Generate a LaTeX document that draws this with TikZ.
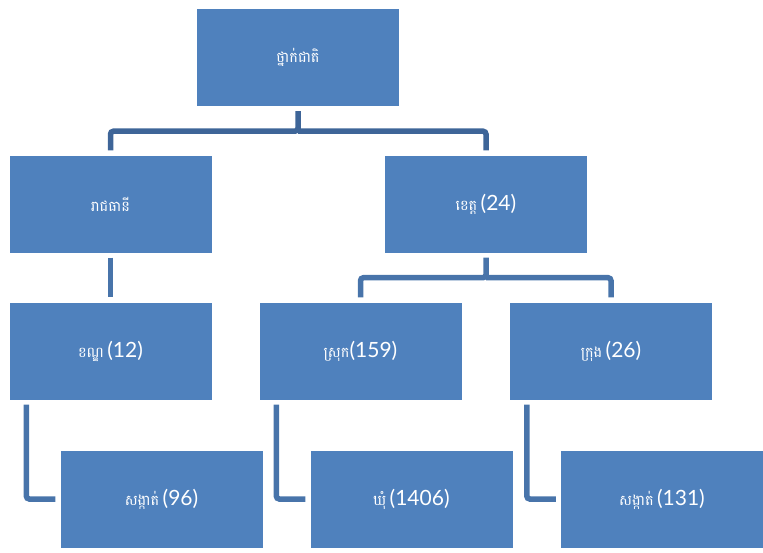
\documentclass[tikz,border=0pt]{standalone}
\usepackage{fontspec}
\usepackage{tikz}
\usetikzlibrary{positioning,calc}
\newfontfamily\khfont[Script=Khmer]{Battambang}
\newfontfamily\numfont{Lato}

\definecolor{boxblue}{HTML}{4F81BD}
\definecolor{linkdark}{HTML}{3E6598}
\definecolor{linklight}{HTML}{4874AA}

\tikzset{
  unitbox/.style={fill=boxblue, text=white, minimum width=202pt, minimum height=97pt, inner sep=0pt},
  linkA/.style={draw=linkdark, line width=5.5pt, rounded corners=3pt},
  linkB/.style={draw=linklight, line width=5.5pt, rounded corners=3pt}
}
\newcommand{\kh}[1]{{\khfont\fontsize{14.5}{16}\selectfont #1}}
\newcommand{\nm}[1]{{\numfont\fontsize{21}{24}\selectfont #1}}

\begin{document}
\begin{tikzpicture}[x=1pt, y=-1pt]
				\useasboundingbox (0,0) rectangle (763,552);

				% Top level
				\node[unitbox] (nat) at (298, 57.5) {\kh{ថ្នាក់ជាតិ}};

				% Second level
				\node[unitbox] (cap) at (110.5, 204) {\kh{រាជធានី}};
				\node[unitbox] (prov) at (486, 204) {\kh{ខេត្ត}\ \nm{(24)}};

				% Third level
				\node[unitbox] (khan) at (110.5, 351) {\kh{ខណ្ឌ}\ \nm{(12)}};
				\node[unitbox] (srok) at (360.5, 351) {\kh{ស្រុក}\nm{(159)}};
				\node[unitbox] (krong) at (611, 351) {\kh{ក្រុង}\ \nm{(26)}};

				% Fourth level
				\node[unitbox] (sk1) at (161.5, 499) {\kh{សង្កាត់}\ \nm{(96)}};
				\node[unitbox] (khum) at (411.5, 499) {\kh{ឃុំ}\ \nm{(1406)}};
				\node[unitbox] (sk2) at (662, 499) {\kh{សង្កាត់}\ \nm{(131)}};

				% Junctions of the branching links
				\coordinate (j1) at ($(nat.south)+(0,25)$);
				\coordinate (j2) at ($(prov.south)+(0,25)$);

				% Top level to second level
				\draw[linkA] ([yshift=-5pt]nat.south) -- (j1) -| ([yshift=5pt]cap.north);
				\draw[linkA] (j1) -| ([yshift=5pt]prov.north);

				% Second level to third level
				\draw[linkB] ([yshift=-5pt]cap.south) -- ([yshift=5pt]khan.north);
				\draw[linkB] ([yshift=-5pt]prov.south) -- (j2) -| ([yshift=5pt]srok.north);
				\draw[linkB] (j2) -| ([yshift=5pt]krong.north);

				% Third level to fourth level
				\draw[linkB] ([xshift=17pt, yshift=-5pt]khan.south west) |- ([xshift=-5pt]sk1.west);
				\draw[linkB] ([xshift=17pt, yshift=-5pt]srok.south west) |- ([xshift=-5pt]khum.west);
				\draw[linkB] ([xshift=17pt, yshift=-5pt]krong.south west) |- ([xshift=-5pt]sk2.west);
\end{tikzpicture}
\end{document}
